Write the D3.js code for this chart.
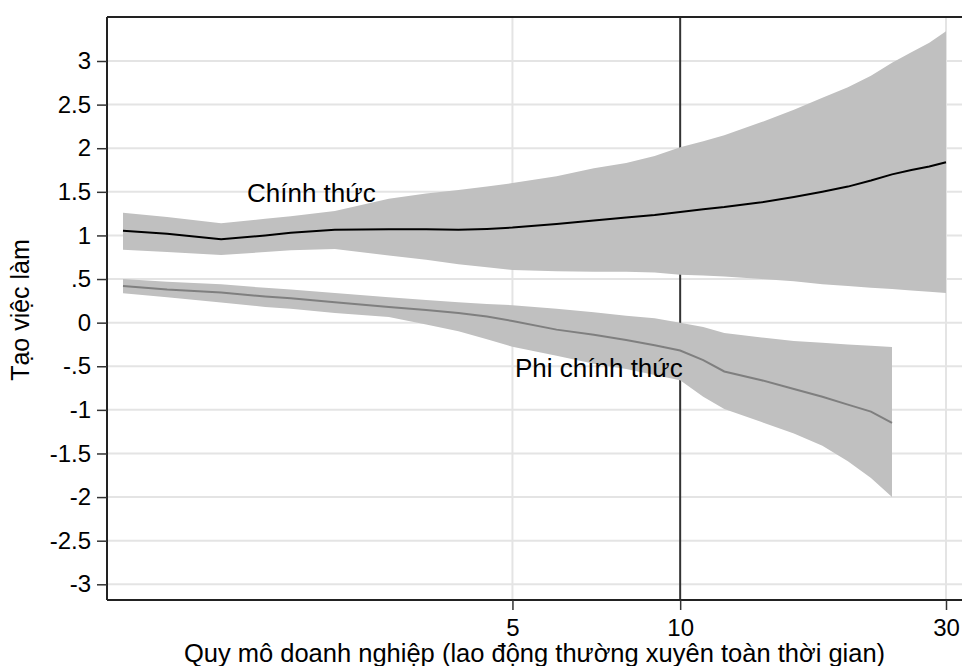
<!DOCTYPE html>
<html><head><meta charset="utf-8">
<script src="https://cdn.jsdelivr.net/npm/d3@7"></script>
<style>html,body{margin:0;padding:0;background:#fff;}text{font-family:"Liberation Sans",Arial,Helvetica,sans-serif;fill:#000;}</style>
</head><body>
<svg id="c" width="962" height="666"></svg>
<script>
// firm size (full-time regular workers)
const sizes = [1,1.2,1.5,1.8,2,2.4,3,3.5,4,4.5,5,6,7,8,9,10,11,12,14,16,18,20,22,24,26,28,30];
// formal employment creation: estimate and CI
const formalMean  = [1.055,1.02,0.955,1.00,1.03,1.065,1.07,1.07,1.065,1.075,1.09,1.13,1.17,1.205,1.235,1.27,1.30,1.325,1.38,1.44,1.50,1.56,1.63,1.70,1.75,1.79,1.84];
const formalUpper = [1.26,1.21,1.14,1.19,1.22,1.28,1.42,1.48,1.52,1.56,1.60,1.68,1.77,1.83,1.91,2.01,2.08,2.15,2.30,2.44,2.58,2.70,2.83,2.98,3.10,3.21,3.34];
const formalLower = [0.836,0.81,0.775,0.81,0.83,0.845,0.77,0.72,0.67,0.635,0.605,0.59,0.585,0.585,0.575,0.55,0.54,0.53,0.50,0.475,0.44,0.42,0.40,0.385,0.37,0.355,0.34];
// informal employment creation (up to size 24)
const informalSizes = [1,1.2,1.5,1.8,2,2.4,3,3.5,4,4.5,5,6,7,8,9,10,11,12,14,16,18,20,22,24];
const informalMean  = [0.42,0.38,0.345,0.30,0.28,0.235,0.18,0.145,0.11,0.07,0.02,-0.08,-0.14,-0.20,-0.26,-0.32,-0.43,-0.56,-0.66,-0.76,-0.85,-0.94,-1.02,-1.15];
const informalUpper = [0.50,0.47,0.44,0.40,0.38,0.34,0.29,0.26,0.235,0.215,0.20,0.16,0.12,0.08,0.05,0.0,-0.05,-0.12,-0.17,-0.21,-0.23,-0.25,-0.265,-0.28];
const informalLower = [0.338,0.29,0.23,0.18,0.16,0.11,0.065,-0.02,-0.10,-0.19,-0.276,-0.38,-0.47,-0.53,-0.60,-0.66,-0.85,-0.99,-1.14,-1.27,-1.41,-1.59,-1.78,-2.0];
const xTicks = [5,10,30];
const yTicks = [3,2.5,2,1.5,1,0.5,0,-0.5,-1,-1.5,-2,-2.5,-3];
const yTickLabels = ["3","2.5","2","1.5","1",".5","0","-.5","-1","-1.5","-2","-2.5","-3"];
const refLine = 10;

const svg = d3.select("#c");
const L = 107, R = 962, T = 17, B = 600;
const x = d3.scaleLog().domain([1,30]).range([123,946]);
const y = d3.scaleLinear().domain([-3,3]).range([584.3,61]);

svg.append("rect").attr("width",962).attr("height",666).attr("fill","#fff");
svg.append("defs").append("clipPath").attr("id","clip").append("rect")
  .attr("x",L).attr("y",T).attr("width",R-L).attr("height",B-T);

const g = svg.append("g").attr("clip-path","url(#clip)");
// grid
g.selectAll("line.hg").data(yTicks).join("line").attr("class","hg")
  .attr("x1",L).attr("x2",R).attr("y1",d=>y(d)).attr("y2",d=>y(d))
  .attr("stroke","#e4e4e4").attr("stroke-width",2);
g.selectAll("line.vg").data(xTicks.filter(d=>d!==refLine)).join("line").attr("class","vg")
  .attr("x1",d=>x(d)).attr("x2",d=>x(d)).attr("y1",T).attr("y2",B)
  .attr("stroke","#e4e4e4").attr("stroke-width",2);
// reference line
g.append("line").attr("x1",x(refLine)).attr("x2",x(refLine)).attr("y1",T).attr("y2",B)
  .attr("stroke","#333").attr("stroke-width",2);

const formal = sizes.map((s,i)=>({s, m:formalMean[i], lo:formalLower[i], hi:formalUpper[i]}));
const informal = informalSizes.map((s,i)=>({s, m:informalMean[i], lo:informalLower[i], hi:informalUpper[i]}));
const area = d3.area().x(d=>x(d.s)).y0(d=>y(d.lo)).y1(d=>y(d.hi));
const line = d3.line().x(d=>x(d.s)).y(d=>y(d.m));
g.append("path").datum(formal).attr("d",area).attr("fill","#c0c0c0");
g.append("path").datum(informal).attr("d",area).attr("fill","#c0c0c0");
g.append("path").datum(formal).attr("d",line).attr("fill","none").attr("stroke","#000").attr("stroke-width",2);
g.append("path").datum(informal).attr("d",line).attr("fill","none").attr("stroke","#7f7f7f").attr("stroke-width",2);

// frame
svg.append("line").attr("x1",L).attr("x2",R).attr("y1",T).attr("y2",T).attr("stroke","#222").attr("stroke-width",2);
// y axis
const ya = svg.append("g").attr("transform",`translate(${L},0)`)
  .call(d3.axisLeft(y).tickValues(yTicks).tickSize(10).tickPadding(6).tickFormat((d,i)=>yTickLabels[i]));
// x axis
const xa = svg.append("g").attr("transform",`translate(0,${B})`)
  .call(d3.axisBottom(x).tickValues(xTicks).tickSize(10).tickPadding(9).tickFormat(d3.format("d")));
[ya,xa].forEach(a=>{
  a.select(".domain").attr("stroke","#222").attr("stroke-width",2);
  a.selectAll(".tick line").attr("stroke","#333").attr("stroke-width",1.5);
  a.selectAll(".tick text").attr("font-size",24).attr("font-family",'"Liberation Sans",Arial,sans-serif').attr("fill","#000");
});
ya.select(".domain").attr("d",`M0,${T}V${B}`);
xa.select(".domain").attr("d",`M${L},0H${R}`);

// labels
svg.append("text").attr("x",247).attr("y",201.5).attr("font-size",26).text("Chính thức");
svg.append("text").attr("x",515).attr("y",376.5).attr("font-size",26).text("Phi chính thức");
svg.append("text").attr("x",(L+R)/2).attr("y",662).attr("text-anchor","middle").attr("font-size",25.5)
  .text("Quy mô doanh nghiệp (lao động thường xuyên toàn thời gian)");
svg.append("text").attr("transform","translate(29,310) rotate(-90)").attr("text-anchor","middle").attr("font-size",25)
  .text("Tạo việc làm");
</script>
</body></html>
